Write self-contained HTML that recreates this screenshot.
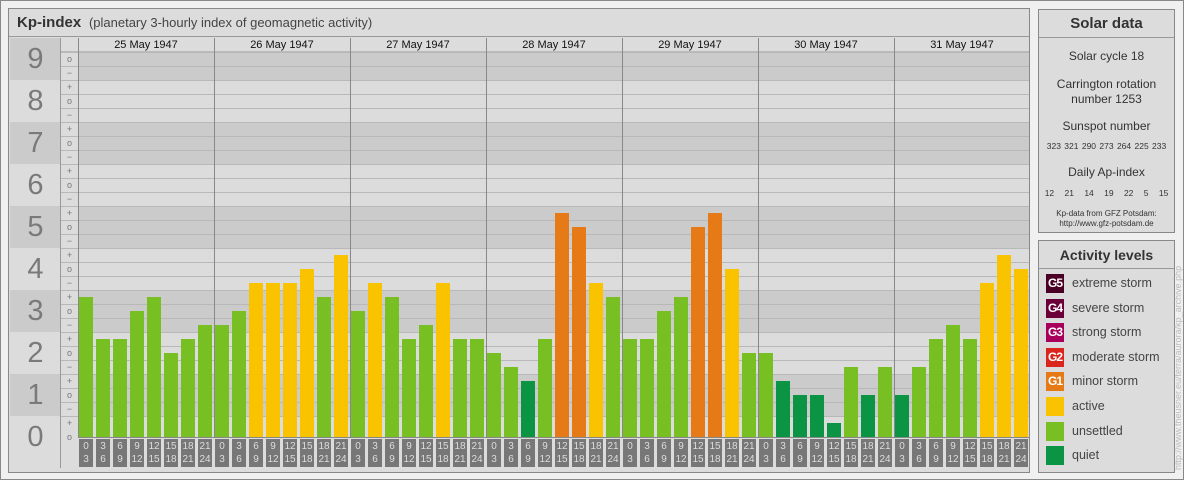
<!DOCTYPE html>
<html><head><meta charset="utf-8"><style>
*{margin:0;padding:0;box-sizing:border-box}
body{width:1184px;height:480px;background:#f0f0f0;position:relative;overflow:hidden;font-family:"Liberation Sans",sans-serif}
.a{position:absolute}
#main{left:8px;top:8px;width:1022px;height:465px;border:1px solid #888;background:#dcdcdc}
</style></head><body>
<div class="a" style="left:0;top:0;width:1184px;height:480px;border:1px solid #888"></div>
<div class="a" id="main"></div>
<div class="a" style="left:9px;top:9px;width:1020px;height:28px;border-bottom:1px solid #999;background:#dcdcdc;font-size:15px;color:#333;line-height:28px;padding-left:8px"><b>Kp-index</b> <span style="font-size:13px;color:#444">&nbsp;(planetary 3-hourly index of geomagnetic activity)</span></div>
<div id="g"></div>
<div class="a" style="left:1038px;top:9px;width:137px;height:224px;border:1px solid #888;background:#dcdcdc;text-align:center;color:#333">
<div style="height:28px;border-bottom:1px solid #999;font-weight:bold;font-size:15px;line-height:28px">Solar data</div>
<div style="font-size:12px;margin-top:11px">Solar cycle 18</div>
<div style="font-size:12px;margin-top:14px;line-height:15px">Carrington rotation<br>number 1253</div>
<div style="font-size:12px;margin-top:12px">Sunspot number</div>
<div style="font-size:8.5px;margin-top:8px;word-spacing:1px">323 321 290 273 264 225 233</div>
<div style="font-size:12px;margin-top:14px">Daily Ap-index</div>
<div style="font-size:8.5px;margin-top:9px;word-spacing:8px">12 21 14 19 22 5 15</div>
<div style="font-size:8px;margin-top:11px;line-height:10px">Kp-data from GFZ Potsdam:<br>http://www.gfz-potsdam.de</div>
</div>
<div class="a" style="left:1038px;top:240px;width:137px;height:233px;border:1px solid #888;background:#dcdcdc;color:#333">
<div style="height:28px;border-bottom:1px solid #999;font-weight:bold;font-size:14px;line-height:28px;text-align:center">Activity levels</div>
<div id="leg"></div>
</div>
<div class="a" style="left:1173px;top:470px;transform:rotate(-90deg);transform-origin:0 0;font-size:9px;color:#bbb;white-space:nowrap">http://www.theusner.eu/terra/aurora/kp_archive.php</div>
<script>
var g='';
for(var n=0;n<=9;n++){var tt=437-42*n-21;var hh=42;if(n==0)hh=30;
g+='<div class="a" style="left:10px;top:'+tt+'px;width:51px;height:'+hh+'px;background:'+(n%2?'#cbcbcb':'#dcdcdc')+';color:#7a7a7a;font-size:29px;text-align:center;line-height:42px">'+n+'</div>';
var bt=Math.max(tt,52);var bh=(n==9?80-52:(n==0?437-tt:hh));
g+='<div class="a" style="left:78px;top:'+bt+'px;width:951px;height:'+bh+'px;background:'+(n%2?'#cbcbcb':'#dcdcdc')+'"></div>';}
g+='<div class="a" style="left:60px;top:38px;width:1px;height:430px;background:#999"></div>';
g+='<div class="a" style="left:61px;top:38px;width:17px;height:430px;background:#dcdcdc"></div>';
g+='<div class="a" style="left:61px;top:38px;width:968px;height:14px;background:#dcdcdc;border-bottom:1px solid #bbb"></div>';
for(var k=1;k<28;k++){var y=38+14*k;
 g+='<div class="a" style="left:61px;top:'+y+'px;width:968px;height:1px;background:#b8b8b8"></div>';}
for(var v=0;v<=27;v++){var yc=437-14*v;var s=['o','+','\u2212'][v%3];
 g+='<div class="a" style="left:61px;top:'+(yc-7)+'px;width:17px;height:14px;font-size:9px;color:#777;text-align:center;line-height:14px">'+s+'</div>';}
var dates=['25','26','27','28','29','30','31'];
var vals=[[10,7,7,9,10,6,7,8],[8,9,11,11,11,12,10,13],[9,11,10,7,8,11,7,7],[6,5,4,7,16,15,11,10],[7,7,9,10,15,16,12,6],[6,4,3,3,1,5,3,5],[3,5,7,8,7,11,13,12]];
function col(v){return v>=15?'#e67a16':v>=11?'#f9c300':v>=5?'#77bf22':'#0b9444';}
for(var d=0;d<7;d++){var x0=78+136*d;
 g+='<div class="a" style="left:'+x0+'px;top:38px;width:136px;height:14px;font-size:11px;color:#111;text-align:center;line-height:14px">'+dates[d]+' May 1947</div>';
 g+='<div class="a" style="left:'+x0+'px;top:38px;width:1px;height:400px;background:#888"></div>';
 for(var i=0;i<8;i++){var v=vals[d][i];var tp=437-14*v;var x=x0+17*i+1;
  g+='<div class="a" style="left:'+x+'px;top:'+tp+'px;width:14px;height:'+(437-tp)+'px;background:'+col(v)+'"></div>';
  g+='<div class="a" style="left:'+x+'px;top:439px;width:14px;height:28px;background:#777;color:#ddd;font-size:10px;text-align:center;line-height:13px;padding-top:1px">'+(3*i)+'<br>'+(3*i+3)+'</div>';}
}
g+='<div class="a" style="left:1029px;top:38px;width:1px;height:400px;background:#888"></div>';
g+='<div class="a" style="left:78px;top:437px;width:951px;height:1px;background:#888"></div>';
document.getElementById('g').innerHTML=g;
var L=[['#4a0024','G5','extreme storm'],['#6b0038','G4','severe storm'],['#a8005a','G3','strong storm'],['#d9251b','G2','moderate storm'],['#e67a16','G1','minor storm'],['#f9c300','','active'],['#77bf22','','unsettled'],['#0b9444','','quiet']];
var h='';for(var j=0;j<L.length;j++){h+='<div class="a" style="left:7px;top:'+(33+24.6*j)+'px;width:18px;height:19px;background:'+L[j][0]+';color:#fff;font-size:12px;line-height:19px;text-align:center;font-weight:bold;letter-spacing:-1px">'+L[j][1]+'</div><div class="a" style="left:33px;top:'+(33+24.6*j)+'px;font-size:12.5px;line-height:19px;color:#444;white-space:nowrap">'+L[j][2]+'</div>';}
document.getElementById('leg').innerHTML=h;
</script>
</body></html>
